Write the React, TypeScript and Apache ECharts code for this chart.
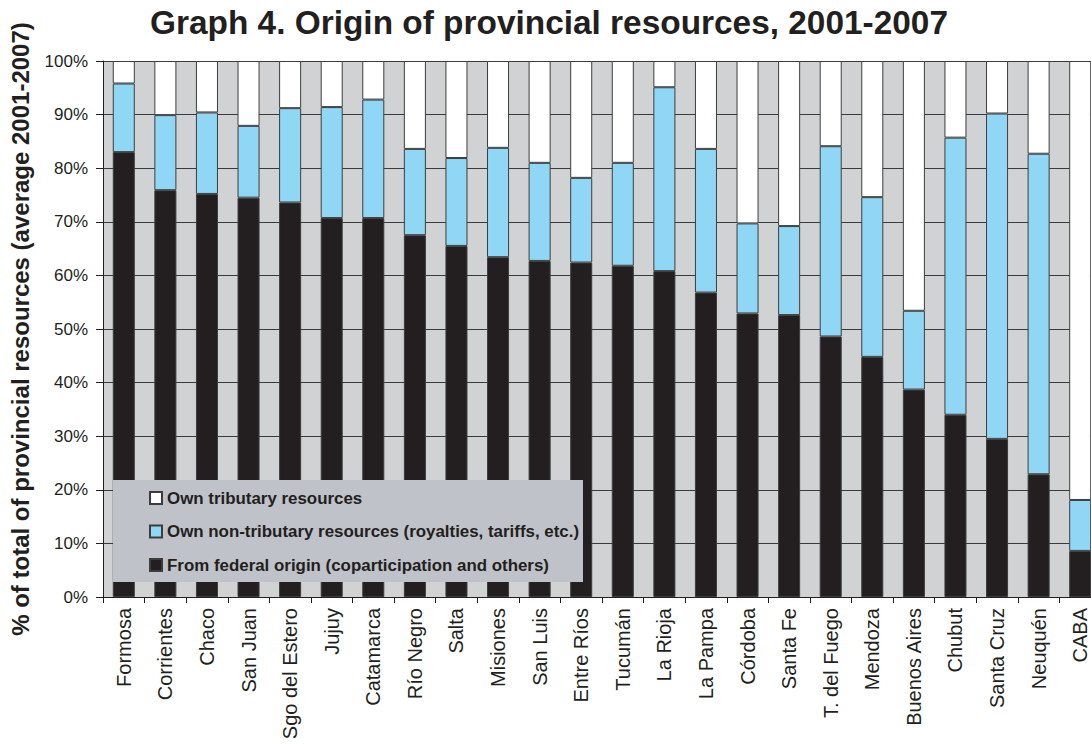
import React, { useEffect, useRef } from "react";
import * as echarts from "echarts";

// Provinces, ordered by share of federal-origin resources
const provinces = [
  "Formosa", "Corrientes", "Chaco", "San Juan", "Sgo del Estero", "Jujuy",
  "Catamarca", "Río Negro", "Salta", "Misiones", "San Luis", "Entre Ríos",
  "Tucumán", "La Rioja", "La Pampa", "Córdoba", "Santa Fe", "T. del Fuego",
  "Mendoza", "Buenos Aires", "Chubut", "Santa Cruz", "Neuquén", "CABA",
];

// Shares of total provincial resources (%), average 2001-2007
const federalOrigin = [
  83.0, 75.9, 75.2, 74.5, 73.6, 70.7, 70.7, 67.5, 65.5, 63.4, 62.7, 62.4,
  61.8, 60.8, 56.8, 52.9, 52.6, 48.6, 44.8, 38.7, 34.0, 29.5, 22.9, 8.6,
];
const ownNonTributary = [
  12.8, 14.0, 15.2, 13.4, 17.6, 20.7, 22.1, 16.1, 16.4, 20.4, 18.3, 15.8,
  19.2, 34.3, 26.8, 16.8, 16.6, 35.5, 29.8, 14.7, 51.7, 60.7, 59.8, 9.5,
];
const ownTributary = [
  4.2, 10.1, 9.6, 12.1, 8.8, 8.6, 7.2, 16.4, 18.1, 16.2, 19.0, 21.8,
  19.0, 4.9, 16.4, 30.3, 30.8, 15.9, 25.4, 46.6, 14.3, 9.8, 17.3, 81.9,
];

const seriesNames = {
  tributary: "Own tributary resources",
  nonTributary: "Own non-tributary resources (royalties, tariffs, etc.)",
  federal: "From federal origin (coparticipation and others)",
};

const titleText = "Graph 4. Origin of provincial resources, 2001-2007";
const yAxisTitle = "% of total of provincial resources (average 2001-2007)";

const FONT = "'Liberation Sans', Arial, Helvetica, sans-serif";
const INK = "#231f20";
const EDGE = "#3d3d3d";

export default function App() {
  const ref = useRef<HTMLDivElement>(null);

  useEffect(() => {
    if (!ref.current) return;
    const chart = echarts.init(ref.current, null, { renderer: "svg" });

    const barStyle = (color: string) => ({
      color,
      borderColor: EDGE,
      borderWidth: 1,
    });

    chart.setOption({
      animation: false,
      textStyle: { fontFamily: FONT, color: INK },
      title: {
        text: titleText,
        left: 150,
        top: 6,
        padding: 0,
        textStyle: { fontFamily: FONT, fontSize: 33.4, fontWeight: "bold", color: INK },
      },
      graphic: [
        {
          type: "rect",
          z: 3,
          shape: { x: 113, y: 480, width: 470, height: 102 },
          style: { fill: "#bfc2c8" },
        },
      ],
      legend: {
        orient: "vertical",
        left: 149,
        top: 489,
        padding: 0,
        z: 5,
        itemGap: 15.5,
        itemWidth: 12,
        itemHeight: 12,
        icon: "rect",
        data: [seriesNames.tributary, seriesNames.nonTributary, seriesNames.federal],
        textStyle: {
          fontFamily: FONT,
          fontSize: 16.9,
          fontWeight: "bold",
          color: INK,
          lineHeight: 18,
        },
      },
      grid: {
        left: 97,
        right: 19,
        top: 61,
        bottom: 147,
        show: true,
        backgroundColor: "#d1d2d4",
        borderWidth: 0,
      },
      xAxis: {
        type: "category",
        data: provinces,
        boundaryGap: true,
        axisLine: { show: true, lineStyle: { color: INK, width: 1 } },
        axisTick: { show: true, length: 6, lineStyle: { color: INK } },
        axisLabel: {
          rotate: 90,
          interval: 0,
          margin: 11,
          fontFamily: FONT,
          fontSize: 20,
          color: INK,
        },
      },
      yAxis: {
        type: "value",
        min: 0,
        max: 100,
        interval: 10,
        name: yAxisTitle,
        nameLocation: "middle",
        nameRotate: 90,
        nameGap: 71,
        nameTextStyle: { fontFamily: FONT, fontSize: 24, fontWeight: "bold", color: INK },
        axisLine: { show: true, lineStyle: { color: INK, width: 1 } },
        axisTick: { show: true, length: 7, lineStyle: { color: INK } },
        axisLabel: {
          formatter: "{value}%",
          margin: 15,
          fontFamily: FONT,
          fontSize: 17,
          color: INK,
        },
        splitLine: { show: true, lineStyle: { color: "#3a3a3a", width: 1 } },
      },
      series: [
        {
          name: seriesNames.federal,
          type: "bar",
          stack: "total",
          barWidth: "53%",
          data: federalOrigin,
          itemStyle: barStyle(INK),
        },
        {
          name: seriesNames.nonTributary,
          type: "bar",
          stack: "total",
          barWidth: "53%",
          data: ownNonTributary,
          itemStyle: barStyle("#8fd7f5"),
        },
        {
          name: seriesNames.tributary,
          type: "bar",
          stack: "total",
          barWidth: "53%",
          data: ownTributary,
          itemStyle: barStyle("#ffffff"),
        },
      ],
    });

    return () => chart.dispose();
  }, []);

  return (
    <div
      style={{
        position: "fixed",
        left: 0,
        top: 0,
        width: 1091,
        height: 744,
        overflow: "hidden",
        background: "#ffffff",
      }}
    >
      <div ref={ref} style={{ width: 1120, height: 744 }} />
    </div>
  );
}
